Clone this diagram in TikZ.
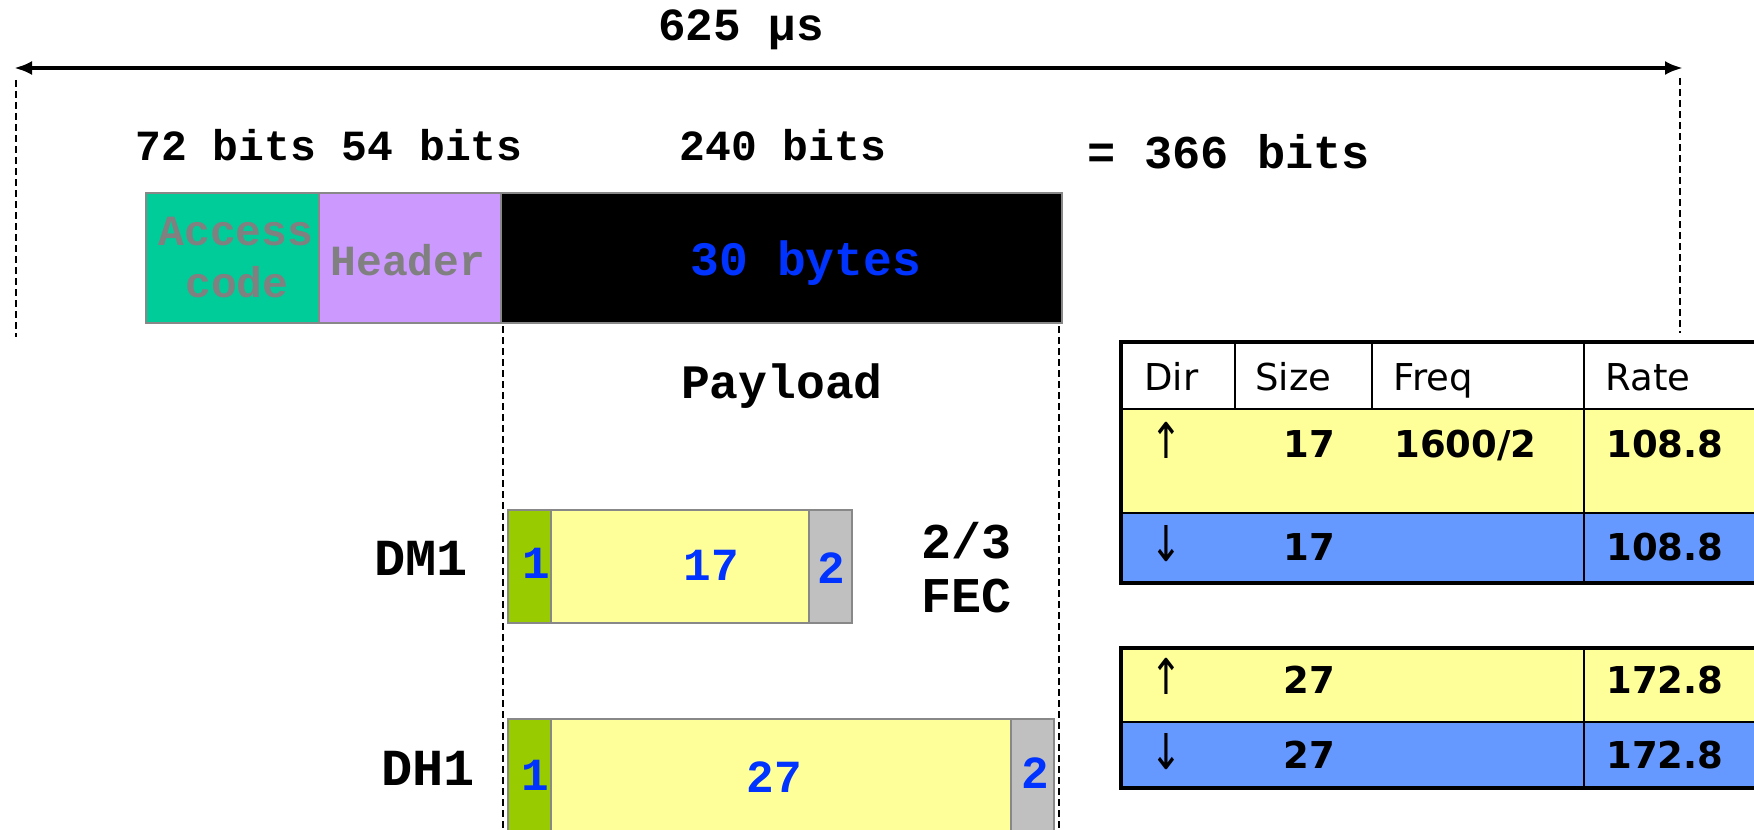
\documentclass[tikz,border=0pt]{standalone}
\usepackage{fontspec}
\newfontfamily\monofont{Liberation Mono}
\newfontfamily\tabfont{DejaVu Sans}
\usetikzlibrary{arrows.meta}
\definecolor{accessgreen}{HTML}{00CC99}
\definecolor{headerlilac}{HTML}{CC99FF}
\definecolor{bitblue}{HTML}{0033FF}
\definecolor{fieldgreen}{HTML}{99CC00}
\definecolor{paleyellow}{HTML}{FFFF99}
\definecolor{crcgray}{HTML}{C0C0C0}
\definecolor{rowblue}{HTML}{6699FF}
\definecolor{edgegray}{HTML}{888888}
\definecolor{labelgray}{HTML}{808080}
\tikzset{
  field/.style={draw=edgegray, line width=1pt, anchor=north west, inner sep=0pt, outer sep=0pt},
  mono/.style={anchor=base, inner sep=0pt, font={\monofont\bfseries\fontsize{#1}{#1}\selectfont}},
  tabtxt/.style={anchor=base west, inner sep=0pt, font={\tabfont\fontsize{18.5}{20}\selectfont}},
  tabnum/.style={anchor=base west, inner sep=0pt, font={\tabfont\bfseries\fontsize{18.5}{20}\selectfont}},
  tabarrow/.style={anchor=base west, inner sep=0pt, yscale=1.3, font={\tabfont\fontsize{19}{20}\selectfont}},
  guide/.style={line width=0.8pt, dash pattern=on 3.5pt off 2pt},
  dimarrow/.style={line width=2pt, {Latex[length=9pt,width=7pt]}-{Latex[length=9pt,width=7pt]}},
  rule/.style={line width=1pt},
  frame/.style={line width=2.2pt}
}
\begin{document}
\begin{tikzpicture}[x=0.5pt,y=-0.5pt]
\path[use as bounding box] (0,0) rectangle (1754,829);
\clip (0,0) rectangle (1754,829);

% slot length
\coordinate (slotL) at (14,68);
\coordinate (slotR) at (1683,68);
\draw[dimarrow] (slotL) -- (slotR);
\node[mono=23pt] (slottime) at (741,41) {625 µs};

\coordinate (gl1) at (16,80);  \coordinate (gl2) at (16,337);
\coordinate (gr1) at (1680,78); \coordinate (gr2) at (1680,333);
\draw[guide] (gl1) -- (gl2);
\draw[guide] (gr1) -- (gr2);

% field sizes
\node[mono=21.5pt] (achdr) at (329,160) {72 bits 54 bits};
\node[mono=21.5pt] (plbits) at (783,160) {240 bits};
\node[mono=23.5pt] (total) at (1229,168) {= 366 bits};

% packet fields
\node[field, fill=accessgreen, minimum width=86.5pt, minimum height=65pt] (access) at (146,193) {};
\node[field, fill=headerlilac, minimum width=91pt, minimum height=65pt] (header) at (319,193) {};
\node[field, fill=black, minimum width=280.5pt, minimum height=65pt] (payload) at (501,193) {};
\node[mono=21.5pt, labelgray] (acc1) at (236,245) {Access};
\node[mono=21.5pt, labelgray] (acc2) at (237,297) {code};
\node[mono=21.5pt, labelgray] (hdrtxt) at (408,275) {Header};
\node[mono=24pt, bitblue] (bytes) at (806,275) {30 bytes};

% payload extent
\coordinate (pl1) at (503,326); \coordinate (pl2) at (503,829);
\coordinate (pr1) at (1059,326); \coordinate (pr2) at (1059,829);
\draw[guide] (pl1) -- (pl2);
\draw[guide] (pr1) -- (pr2);
\node[mono=24pt] (pltitle) at (782,398) {Payload};

% DM1
\node[mono=26pt] (dm1) at (421,575) {DM1};
\node[field, fill=fieldgreen, minimum width=21.5pt, minimum height=56.5pt] (dmhead) at (508,510) {};
\node[field, fill=paleyellow, minimum width=129pt, minimum height=56.5pt] (dmbody) at (551,510) {};
\node[field, fill=crcgray, minimum width=21.5pt, minimum height=56.5pt] (dmcrc) at (809,510) {};
\node[mono=23pt, bitblue] (dmh) at (536,578) {1};
\node[mono=23pt, bitblue] (dmb) at (711,580) {17};
\node[mono=23pt, bitblue] (dmc) at (831,583) {2};
\node[mono=25pt] (fec1) at (966,558) {2/3};
\node[mono=25pt] (fec2) at (966,612) {FEC};

% DH1
\node[mono=26pt] (dh1) at (428,785) {DH1};
\node[field, fill=fieldgreen, minimum width=21.5pt, minimum height=80pt] (dhhead) at (508,719) {};
\node[field, fill=paleyellow, minimum width=230pt, minimum height=80pt] (dhbody) at (551,719) {};
\node[field, fill=crcgray, minimum width=21.5pt, minimum height=80pt] (dhcrc) at (1011,719) {};
\node[mono=23pt, bitblue] (dhh) at (535,790) {1};
\node[mono=23pt, bitblue] (dhb) at (774,792) {27};
\node[mono=23pt, bitblue] (dhc) at (1035,788) {2};

% DM1 rate table
\fill[white] (1121,342) rectangle (1800,409);
\fill[paleyellow] (1121,409) rectangle (1800,513);
\fill[rowblue] (1121,513) rectangle (1800,583);
\draw[rule] (1121,409) -- (1800,409);
\draw[rule] (1121,513) -- (1800,513);
\draw[rule] (1235,342) -- (1235,409);
\draw[rule] (1372,342) -- (1372,409);
\draw[rule] (1584,342) -- (1584,583);
\draw[frame] (1121,342) rectangle (1800,583);
\node[tabtxt] (hdir) at (1144,390) {Dir};
\node[tabtxt] (hsize) at (1255,390) {Size};
\node[tabtxt] (hfreq) at (1393,390) {Freq};
\node[tabtxt] (hrate) at (1605,390) {Rate};
\node[tabarrow] (u1) at (1150,458) {↑};
\node[tabnum] (u1s) at (1283,457) {17};
\node[tabnum] (u1f) at (1394,457) {1600/2};
\node[tabnum] (u1r) at (1606,457) {108.8};
\node[tabarrow] (d1) at (1150,561) {↓};
\node[tabnum] (d1s) at (1283,560) {17};
\node[tabnum] (d1r) at (1606,560) {108.8};

% DH1 rate table
\fill[paleyellow] (1121,648) rectangle (1800,722);
\fill[rowblue] (1121,722) rectangle (1800,788);
\draw[rule] (1121,722) -- (1800,722);
\draw[rule] (1584,648) -- (1584,788);
\draw[frame] (1121,648) rectangle (1800,788);
\node[tabarrow] (u2) at (1150,694) {↑};
\node[tabnum] (u2s) at (1283,693) {27};
\node[tabnum] (u2r) at (1606,693) {172.8};
\node[tabarrow] (d2) at (1150,769) {↓};
\node[tabnum] (d2s) at (1283,768) {27};
\node[tabnum] (d2r) at (1606,768) {172.8};
\end{tikzpicture}
\end{document}
